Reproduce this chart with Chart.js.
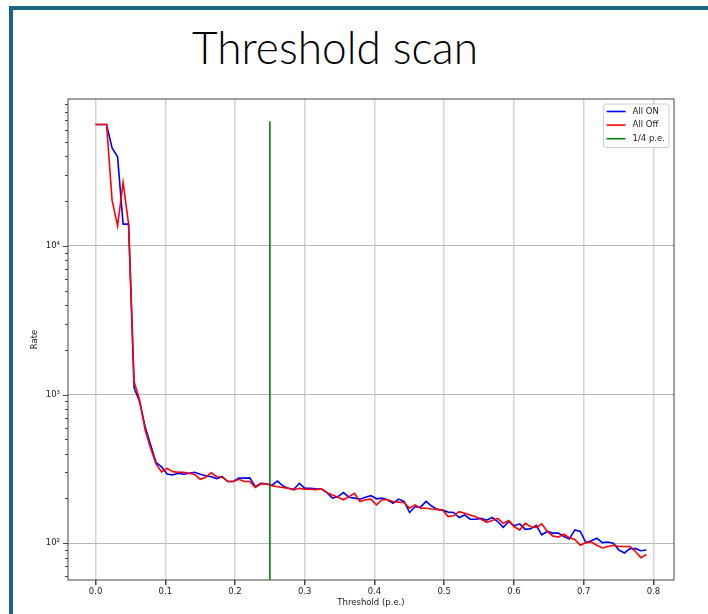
<!DOCTYPE html>
<html>
<head>
<meta charset="utf-8">
<script src="https://cdn.jsdelivr.net/npm/chart.js@4.4.1/dist/chart.umd.min.js"></script>
<style>
    html, body { margin: 0; padding: 0; background: #fff; }
    #page { position: relative; width: 708px; height: 614px; overflow: hidden; background: #fff; }
    .bar { position: absolute; background: #1b6484; }
    #title { position: absolute; left: 192px; top: 20px; font-family: 'Lato', 'Open Sans', sans-serif; font-weight: 300;
             font-size: 45px; color: #000; white-space: nowrap; transform-origin: left top; }
    #chart { position: absolute; left: 0; top: 0; }
</style>
</head>
<body>
<div id="page">
    <div class="bar" style="left:9px; top:6px; width:699px; height:4px;"></div>
    <div class="bar" style="left:9px; top:6px; width:4px; height:608px;"></div>
    <div id="title">Threshold scan</div>
    <canvas id="chart" width="708" height="614"></canvas>
</div>
<script>
// threshold in p.e.
const thresholds = [0, 0.0079, 0.0158, 0.0237, 0.0316, 0.0395, 0.0474, 0.0553, 0.0632, 0.0711,
    0.079, 0.0869, 0.0948, 0.1027, 0.1106, 0.1185, 0.1264, 0.1343, 0.1422, 0.1501,
    0.158, 0.1659, 0.1738, 0.1817, 0.1896, 0.1975, 0.2054, 0.2133, 0.2212, 0.2291,
    0.237, 0.2449, 0.2528, 0.2607, 0.2686, 0.2765, 0.2844, 0.2923, 0.3002, 0.3081,
    0.316, 0.3239, 0.3318, 0.3397, 0.3476, 0.3555, 0.3634, 0.3713, 0.3792, 0.3871,
    0.395, 0.4029, 0.4108, 0.4187, 0.4266, 0.4345, 0.4424, 0.4503, 0.4582, 0.4661,
    0.474, 0.4819, 0.4898, 0.4977, 0.5056, 0.5135, 0.5214, 0.5293, 0.5372, 0.5451,
    0.553, 0.5609, 0.5688, 0.5767, 0.5846, 0.5925, 0.6004, 0.6083, 0.6162, 0.6241,
    0.632, 0.6399, 0.6478, 0.6557, 0.6636, 0.6715, 0.6794, 0.6873, 0.6952, 0.7031,
    0.711, 0.7189, 0.7268, 0.7347, 0.7426, 0.7505, 0.7584, 0.7663, 0.7742, 0.7821, 0.79];

const allOn = [65535, 65535, 65535, 45600, 39700, 14000, 14000, 1108, 896, 608,
    458, 348, 326, 292, 288, 296, 291, 296, 300, 291,
    284, 280, 272, 280, 260, 260, 274, 274, 275, 240,
    253, 251, 245, 262, 243, 234, 231, 253, 234, 234,
    232, 231, 219, 201, 206, 219, 204, 201, 198, 204,
    209, 199, 201, 196, 186, 198, 191, 161, 176, 175,
    191, 178, 169, 167, 162, 161, 149, 155, 145, 145,
    147, 143, 149, 140, 128, 140, 131, 135, 124, 125,
    132, 114, 120, 117, 117, 111, 107, 123, 120, 101,
    104, 108, 101, 102, 100, 90, 86, 92, 92, 89, 90];

const allOff = [65535, 65535, 65535, 20300, 13600, 26700, 14000, 1221, 920, 578,
    435, 340, 302, 319, 303, 300, 300, 296, 290, 269,
    278, 298, 280, 278, 260, 260, 269, 260, 260, 237,
    251, 250, 244, 240, 237, 234, 228, 234, 231, 231,
    229, 232, 219, 211, 204, 196, 206, 217, 191, 196,
    198, 181, 196, 196, 191, 189, 188, 172, 181, 172,
    172, 170, 169, 167, 151, 153, 163, 159, 155, 151,
    145, 138, 142, 147, 136, 142, 129, 123, 136, 129,
    128, 135, 120, 112, 110, 115, 109, 106, 97, 101,
    102, 97, 93, 95, 97, 95, 95, 95, 88, 80, 84];

// vertical marker at 1/4 p.e.
const quarterX = [0.25, 0.25];
const quarterY = [50, 69000];

const xTicks = [0, 0.1, 0.2, 0.3, 0.4, 0.5, 0.6, 0.7, 0.8];
const yTicks = [60, 70, 80, 90, 100, 200, 300, 400, 500, 600, 700, 800, 900,
    1000, 2000, 3000, 4000, 5000, 6000, 7000, 8000, 9000,
    10000, 20000, 30000, 40000, 50000, 60000, 70000, 80000, 90000];
const yMajor = [100, 1000, 10000];
const yMajorLabels = ['10²', '10³', '10⁴'];

// fit the title to the width it has on the slide
const title = document.getElementById('title');
const tw = title.getBoundingClientRect().width;
title.style.transform = `scaleX(${286 / tw})`;

function toPoints(xs, ys) {
    return xs.map((x, i) => ({ x: x, y: ys[i] }));
}

const FONT = 'DejaVu Sans';
const TEXT = '#222';

// axis box, y tick marks (major + minor) and legend in the upper right
const framePlugin = {
    id: 'frame',
    afterDraw(chart) {
        const ctx = chart.ctx;
        const a = chart.chartArea;
        const y = chart.scales.y;
        ctx.save();
        ctx.strokeStyle = '#444';
        ctx.lineWidth = 1;
        ctx.strokeRect(a.left, a.top, a.right - a.left, a.bottom - a.top);

        y.ticks.forEach(t => {
            const py = Math.round(y.getPixelForValue(t.value)) + 0.5;
            const len = yMajor.includes(t.value) ? 5 : 3;
            ctx.beginPath();
            ctx.moveTo(a.left - len, py);
            ctx.lineTo(a.left, py);
            ctx.stroke();
        });

        // legend
        ctx.font = `8.5px ${FONT}`;
        const sets = chart.data.datasets;
        const textW = Math.max(...sets.map(d => ctx.measureText(d.label).width));
        const w = 29 + textW + 4;
        const h = 43.5;
        const bx = a.right - 5 - w;
        const by = a.top + 5;
        ctx.fillStyle = 'rgba(255,255,255,0.85)';
        ctx.strokeStyle = '#cccccc';
        ctx.beginPath();
        ctx.roundRect(bx, by, w, h, 2);
        ctx.fill();
        ctx.stroke();
        sets.forEach((d, i) => {
            const ry = by + 7.5 + i * 13.6;
            ctx.strokeStyle = d.borderColor;
            ctx.lineWidth = 1.6;
            ctx.beginPath();
            ctx.moveTo(bx + 3, ry);
            ctx.lineTo(bx + 22, ry);
            ctx.stroke();
            ctx.fillStyle = TEXT;
            ctx.textBaseline = 'middle';
            ctx.fillText(d.label, bx + 29, ry);
        });
        ctx.restore();
    }
};

new Chart(document.getElementById('chart'), {
    type: 'line',
    data: {
        datasets: [
            // lower order is drawn on top: red over blue, green over both
            { label: 'All ON', data: toPoints(thresholds, allOn), borderColor: '#0000ff', borderWidth: 1.6, pointRadius: 0, order: 2 },
            { label: 'All Off', data: toPoints(thresholds, allOff), borderColor: '#ff0000', borderWidth: 1.6, pointRadius: 0, order: 1 },
            { label: '1/4 p.e.', data: toPoints(quarterX, quarterY), borderColor: '#008000', borderWidth: 1.6, pointRadius: 0, order: 0 }
        ]
    },
    options: {
        responsive: false,
        animation: false,
        layout: { padding: { left: 26, top: 99, right: 34, bottom: 0 } },
        plugins: { legend: { display: false }, tooltip: { enabled: false } },
        scales: {
            x: {
                type: 'linear',
                min: -0.0395,
                max: 0.8295,
                afterBuildTicks: s => { s.ticks = xTicks.map(v => ({ value: v })); },
                afterFit: s => { s.height = 34; },
                ticks: {
                    callback: v => v.toFixed(1),
                    font: { family: FONT, size: 8.5 },
                    color: TEXT,
                    padding: 2,
                    maxRotation: 0
                },
                grid: { color: 'rgba(176,176,176,0.55)', lineWidth: 1.5, tickColor: '#444', tickLength: 5 },
                border: { display: false },
                title: {
                    display: true,
                    text: 'Threshold (p.e.)',
                    font: { family: FONT, size: 8.5 },
                    color: TEXT,
                    padding: { top: 0, bottom: 6 }
                }
            },
            y: {
                type: 'logarithmic',
                min: 56.6,
                max: 97200,
                afterBuildTicks: s => { s.ticks = yTicks.map(v => ({ value: v })); },
                afterFit: s => { s.width = 42; },
                ticks: {
                    callback: v => {
                        const k = yMajor.indexOf(v);
                        return k >= 0 ? yMajorLabels[k] : '';
                    },
                    font: { family: FONT, size: 8.5 },
                    color: TEXT,
                    padding: 8
                },
                grid: {
                    drawTicks: false,
                    lineWidth: 1,
                    color: c => (c.tick && yMajor.includes(c.tick.value)) ? '#b8b8b8' : 'rgba(0,0,0,0)'
                },
                border: { display: false },
                title: {
                    display: true,
                    text: 'Rate',
                    font: { family: FONT, size: 8.5 },
                    color: TEXT,
                    padding: { top: 4, bottom: 0 }
                }
            }
        }
    },
    plugins: [framePlugin]
});
</script>
</body>
</html>
